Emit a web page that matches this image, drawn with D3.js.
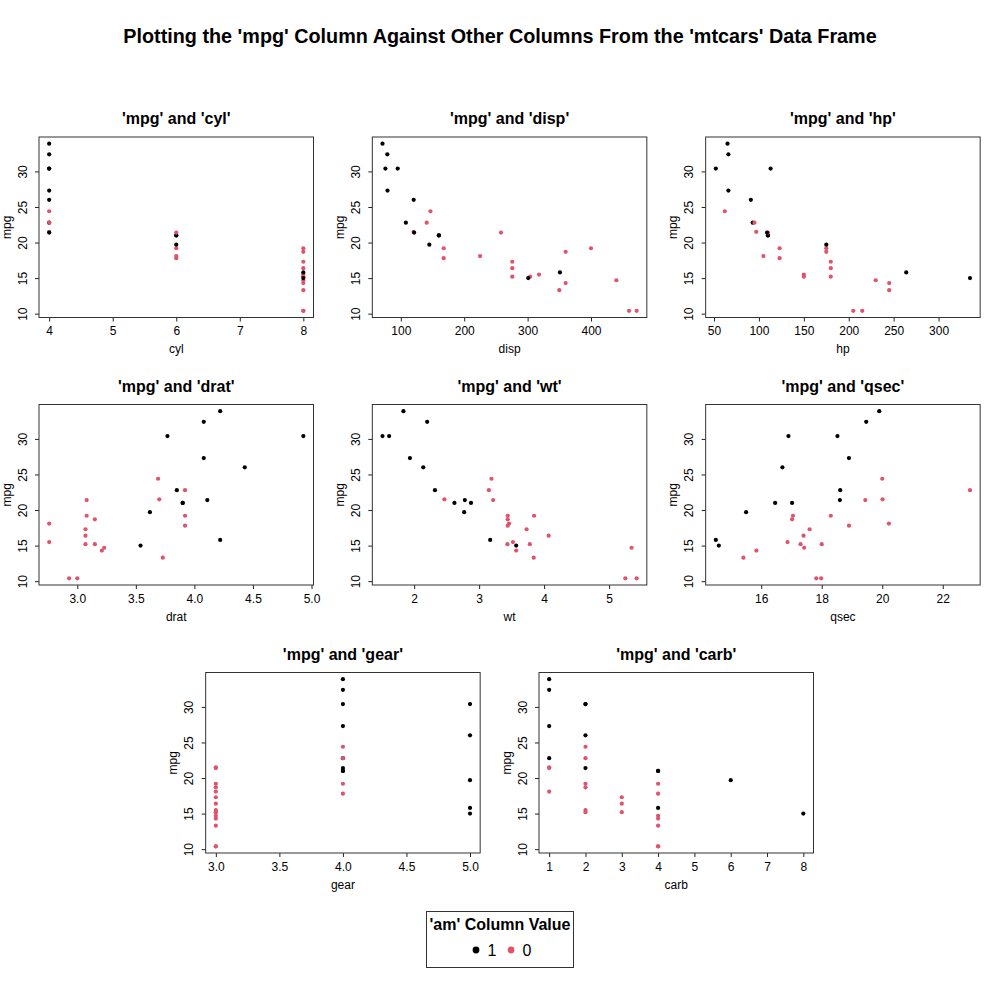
<!DOCTYPE html>
<html><head><meta charset="utf-8">
<script src="https://cdn.jsdelivr.net/npm/d3@7"></script>
<style>body{margin:0;background:#fff}svg{display:block;font-family:"Liberation Sans",Arial,Helvetica,sans-serif}</style>
</head><body><svg id="c" width="1000" height="1000"></svg>
<script>
const mpg  = [21.0,21.0,22.8,21.4,18.7,18.1,14.3,24.4,22.8,19.2,17.8,16.4,17.3,15.2,10.4,10.4,14.7,32.4,30.4,33.9,21.5,15.5,15.2,13.3,19.2,27.3,26.0,30.4,15.8,19.7,15.0,21.4];
const cyl  = [6,6,4,6,8,6,8,4,4,6,6,8,8,8,8,8,8,4,4,4,4,8,8,8,8,4,4,4,8,6,8,4];
const disp = [160,160,108,258,360,225,360,146.7,140.8,167.6,167.6,275.8,275.8,275.8,472,460,440,78.7,75.7,71.1,120.1,318,304,350,400,79,120.3,95.1,351,145,301,121];
const hp   = [110,110,93,110,175,105,245,62,95,123,123,180,180,180,205,215,230,66,52,65,97,150,150,245,175,66,91,113,264,175,335,109];
const drat = [3.90,3.90,3.85,3.08,3.15,2.76,3.21,3.69,3.92,3.92,3.92,3.07,3.07,3.07,2.93,3.00,3.23,4.08,4.93,4.22,3.70,2.76,3.15,3.73,3.08,4.08,4.43,3.77,4.22,3.62,3.54,4.11];
const wt   = [2.620,2.875,2.320,3.215,3.440,3.460,3.570,3.190,3.150,3.440,3.440,4.070,3.730,3.780,5.250,5.424,5.345,2.200,1.615,1.835,2.465,3.520,3.435,3.840,3.845,1.935,2.140,1.513,3.170,2.770,3.570,2.780];
const qsec = [16.46,17.02,18.61,19.44,17.02,20.22,15.84,20.00,22.90,18.30,18.90,17.40,17.60,18.00,17.98,17.82,17.42,19.47,18.52,19.90,20.01,16.87,17.30,15.41,17.05,18.90,16.70,16.90,14.50,15.50,14.60,18.60];
const am   = [1,1,1,0,0,0,0,0,0,0,0,0,0,0,0,0,0,1,1,1,0,0,0,0,0,1,1,1,1,1,1,1];
const gear = [4,4,4,3,3,3,3,4,4,4,4,3,3,3,3,3,3,4,4,4,3,3,3,3,3,4,5,5,5,5,5,4];
const carb = [4,4,1,1,2,1,4,2,2,4,4,3,3,3,4,4,4,1,2,1,1,2,2,4,2,1,2,2,4,6,8,2];

const columns = ["cyl","disp","hp","drat","wt","qsec","gear","carb"];
const columnData = {cyl, disp, hp, drat, wt, qsec, gear, carb};
const xTicks = {
  cyl:[4,5,6,7,8], disp:[100,200,300,400], hp:[50,100,150,200,250,300],
  drat:[3.0,3.5,4.0,4.5,5.0], wt:[2,3,4,5], qsec:[16,18,20,22],
  gear:[3.0,3.5,4.0,4.5,5.0], carb:[1,2,3,4,5,6,7,8]
};
const xTickFmt = {drat:".1f", gear:".1f"};
const yTicks = [10,15,20,25,30];
const legendLabels = ["1","0"];
const legendValues = [1,0];
const mainTitle = "Plotting the 'mpg' Column Against Other Columns From the 'mtcars' Data Frame";
const legendTitle = "'am' Column Value";

const colorFor = d3.scaleOrdinal().domain([1,0]).range(["#000000","#DF536B"]);
const svg = d3.select("#c");

svg.append("text").attr("x",500).attr("y",42.5).attr("text-anchor","middle")
  .attr("font-size",19.8).attr("font-weight","bold").text(mainTitle);

function padExt(v){ const e=d3.extent(v); const p=(e[1]-e[0])*0.04; return [e[0]-p,e[1]+p]; }

const boxW = 274.5, boxH = 180.5;
const rowTops = [137, 404.5, 672.5];
function boxLeft(i){
  if(i<6){ return (i%3)*333.33 + 39; }
  return 166.67 + (i-6)*333.33 + 39;
}
const FS = 12;

columns.forEach((col,i)=>{
  const L = boxLeft(i), T = rowTops[Math.floor(i/3)];
  const xv = columnData[col];
  const x = d3.scaleLinear().domain(padExt(xv)).range([L, L+boxW]);
  const y = d3.scaleLinear().domain(padExt(mpg)).range([T+boxH, T]);
  const g = svg.append("g");

  g.append("text").attr("x",L+boxW/2).attr("y",T-13).attr("text-anchor","middle")
    .attr("font-size",16).attr("font-weight","bold").text(`'mpg' and '${col}'`);

  const xAxis = d3.axisBottom(x).tickValues(xTicks[col]).tickSize(4).tickPadding(5)
    .tickFormat(xTickFmt[col] ? d3.format(xTickFmt[col]) : d3.format("d"));
  const ax = g.append("g").attr("transform",`translate(0,${T+boxH})`).call(xAxis);
  ax.select(".domain").remove();
  ax.selectAll(".tick line").attr("stroke","#222");
  ax.selectAll(".tick text").attr("font-size",FS).attr("fill","#000")
    .attr("font-family","Liberation Sans, Arial, sans-serif");

  const yAxis = d3.axisLeft(y).tickValues(yTicks).tickSize(4).tickFormat(d3.format("d"));
  const ay = g.append("g").attr("transform",`translate(${L},0)`).call(yAxis);
  ay.select(".domain").remove();
  ay.selectAll(".tick line").attr("stroke","#222");
  ay.selectAll(".tick text").attr("font-size",FS).attr("fill","#000")
    .attr("font-family","Liberation Sans, Arial, sans-serif")
    .attr("x",null).attr("dy",null).attr("text-anchor","middle")
    .attr("transform","translate(-12.3,0) rotate(-90)");

  g.append("text").attr("x",L+boxW/2).attr("y",T+boxH+35.5).attr("text-anchor","middle")
    .attr("font-size",FS).text(col);
  g.append("text").attr("transform",`translate(${L-28.5},${T+boxH/2}) rotate(-90)`)
    .attr("text-anchor","middle").attr("font-size",FS).text("mpg");

  g.append("rect").attr("x",L).attr("y",T).attr("width",boxW).attr("height",boxH)
    .attr("fill","none").attr("stroke","#333").attr("stroke-width",1);

  g.selectAll("circle").data(d3.range(mpg.length)).join("circle")
    .attr("cx",k=>x(xv[k])).attr("cy",k=>y(mpg[k])).attr("r",2.1)
    .attr("fill",k=>colorFor(am[k]));
});

// legend
const lg = svg.append("g");
lg.append("rect").attr("x",426.5).attr("y",911.5).attr("width",147).attr("height",56)
  .attr("fill","none").attr("stroke","#333");
lg.append("text").attr("x",500).attr("y",930).attr("text-anchor","middle")
  .attr("font-size",16).attr("font-weight","bold").text(legendTitle);
const lx = d3.scalePoint().domain(legendLabels).range([476,511]);
legendValues.forEach((v,j)=>{
  const cx = lx(legendLabels[j]);
  lg.append("circle").attr("cx",cx).attr("cy",950).attr("r",3.4).attr("fill",colorFor(v));
  lg.append("text").attr("x",cx+11.5).attr("y",956).attr("font-size",16).text(legendLabels[j]);
});
</script></body></html>
